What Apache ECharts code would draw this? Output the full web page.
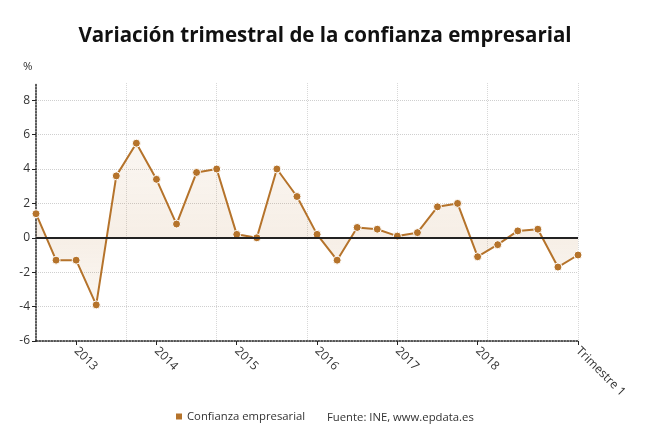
<!DOCTYPE html>
<html>
<head>
<meta charset="utf-8">
<script src="https://cdn.jsdelivr.net/npm/echarts@6/dist/echarts.min.js"></script>
<style>
  html, body { margin: 0; padding: 0; background: #fff; }
  #chart { width: 650px; height: 438px; }
</style>
</head>
<body>
<div id="chart"></div>
<script>
// quarters from 2012 T3 to 2019 T2
const quarters = [
  "2012T3", "2012T4", "2013T1", "2013T2", "2013T3", "2013T4",
  "2014T1", "2014T2", "2014T3", "2014T4", "2015T1", "2015T2",
  "2015T3", "2015T4", "2016T1", "2016T2", "2016T3", "2016T4",
  "2017T1", "2017T2", "2017T3", "2017T4", "2018T1", "2018T2",
  "2018T3", "2018T4", "2019T1", "2019T2"
];
// variación trimestral (%)
const confianza = [
  1.4, -1.3, -1.3, -3.9, 3.6, 5.5,
  3.4, 0.8, 3.8, 4.0, 0.2, 0.0,
  4.0, 2.4, 0.2, -1.3, 0.6, 0.5,
  0.1, 0.3, 1.8, 2.0, -1.1, -0.4,
  0.4, 0.5, -1.7, -1.0
];
// which quarters carry an axis label
const tickLabels = {
  "2013T1": "2013", "2014T1": "2014", "2015T1": "2015", "2016T1": "2016",
  "2017T1": "2017", "2018T1": "2018", "2019T2": "Trimestre 1 2019"
};

const lineColor = "#b5732b";
const chart = echarts.init(document.getElementById("chart"));

const labelAt = (idx, value) => tickLabels[value] !== undefined;

const option = {
  animation: false,
  textStyle: { fontFamily: "Open Sans" },
  title: {
    text: "Variación trimestral de la confianza empresarial",
    left: "center",
    top: 21,
    textStyle: { fontFamily: "Open Sans", fontWeight: 700, fontSize: 20.5, color: "#111" }
  },
  legend: {
    data: ["Confianza empresarial"],
    left: 169,
    top: 406,
    icon: "rect",
    itemWidth: 8,
    itemHeight: 8,
    itemGap: 5,
    textStyle: { fontSize: 11.3, color: "#333", padding: [0, 0, 0, -1] }
  },
  graphic: [
    { type: "text", left: 23, top: 61, style: { text: "%", fontSize: 11.5, fill: "#333", fontFamily: "Open Sans" } },
    { type: "text", left: 327, top: 412, style: { text: "Fuente: INE, www.epdata.es", fontSize: 11.3, fill: "#333", fontFamily: "Open Sans" } }
  ],
  grid: { left: 36, right: 72, top: 83, bottom: 97, containLabel: false },
  xAxis: [
    {
      type: "category",
      data: quarters,
      boundaryGap: false,
      axisLine: { onZero: false, lineStyle: { color: "#222", type: "dotted", width: 1.5 } },
      axisTick: { interval: labelAt, length: 4, lineStyle: { color: "#222" } },
      axisLabel: {
        interval: labelAt,
        formatter: v => tickLabels[v] || "",
        rotate: -45,
        margin: 8,
        fontSize: 12,
        color: "#333",
        width: 72,
        overflow: "truncate",
        ellipsis: ""
      },
      splitLine: { show: false }
    },
    {
      // only draws the vertical dotted grid
      type: "value",
      min: 0,
      max: 6,
      interval: 1,
      position: "bottom",
      axisLine: { show: false },
      axisTick: { show: false },
      axisLabel: { show: false },
      splitLine: { show: true, showMinLine: false, lineStyle: { color: "#d8d8d8", type: "dotted" } }
    }
  ],
  yAxis: {
    type: "value",
    min: -6,
    max: 9,
    interval: 2,
    axisLine: { show: true, lineStyle: { color: "#222", type: "dotted", width: 1.5 } },
    axisTick: { show: true, length: 4, lineStyle: { color: "#222" } },
    axisLabel: { fontSize: 12, color: "#333", margin: 6, showMaxLabel: false },
    splitLine: { show: true, showMaxLine: false, lineStyle: { color: "#cfcfcf", type: "dotted" } }
  },
  series: [
    {
      name: "Confianza empresarial",
      type: "line",
      data: confianza,
      color: lineColor,
      symbol: "circle",
      symbolSize: 8,
      lineStyle: { width: 2, color: lineColor },
      itemStyle: { color: lineColor, borderColor: "#fff", borderWidth: 1 },
      areaStyle: {
        origin: 0,
        color: {
          type: "linear", x: 0, y: 83, x2: 0, y2: 341, global: true,
          colorStops: [
            { offset: 0, color: "rgba(181,115,43,0.04)" },
            { offset: 0.6, color: "rgba(181,115,43,0.17)" },
            { offset: 1, color: "rgba(181,115,43,0.04)" }
          ]
        }
      },
      markLine: {
        silent: true,
        symbol: "none",
        label: { show: false },
        lineStyle: { color: "#222", type: "solid", width: 2 },
        data: [{ yAxis: 0 }]
      }
    }
  ]
};

chart.setOption(option);
</script>
</body>
</html>
